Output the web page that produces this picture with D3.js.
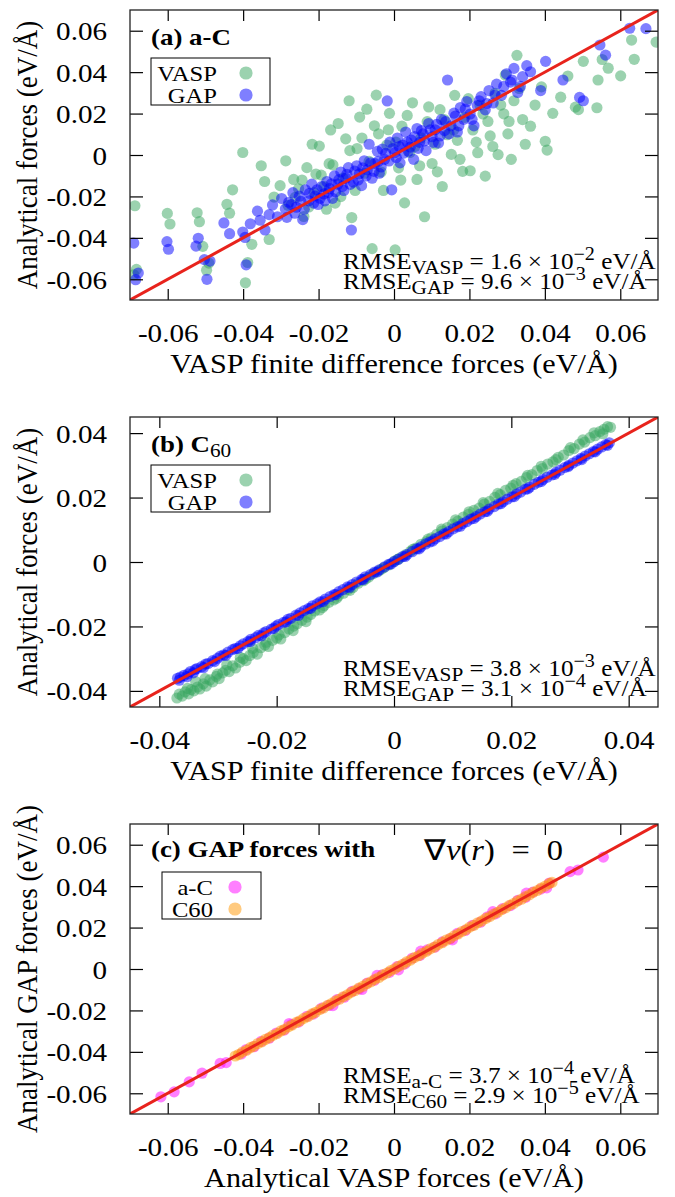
<!DOCTYPE html>
<html><head><meta charset="utf-8">
<script src="https://cdn.jsdelivr.net/npm/d3@7"></script>
<style>
body{margin:0;background:#fff}
svg{display:block}
text{font-family:"Liberation Serif","Times New Roman",serif;fill:#000}
</style>
</head><body>
<svg id="chart" width="675" height="1197"></svg>
<script>
// ---------- tick values / labels ----------
const ticksWide = [-0.06,-0.04,-0.02,0,0.02,0.04,0.06];
const tickLabelsWide = ["-0.06","-0.04","-0.02","0","0.02","0.04","0.06"];
const ticksNarrow = [-0.04,-0.02,0,0.02,0.04];
const tickLabelsNarrow = ["-0.04","-0.02","0","0.02","0.04"];

// ---------- panel (a) a-C : [finite difference, analytical] ----------
const aVasp = [
[-0.0687,-0.0245],[-0.0690,-0.0578],[-0.0683,-0.0552],[-0.0601,-0.0282],[-0.0594,-0.0333],[-0.0522,-0.0279],
[-0.0516,-0.0322],[-0.0507,-0.0441],[-0.0491,-0.0522],[-0.0497,-0.0556],[-0.0436,-0.0281],[-0.0428,-0.0168],
[-0.0443,-0.0238],[-0.0401,0.0012],[-0.0394,-0.0617],[-0.0388,-0.0519],[-0.0377,-0.0431],[-0.0352,-0.0052],
[-0.0343,-0.0128],[-0.0331,-0.0408],[-0.0318,-0.0203],[-0.0302,-0.0148],[-0.0287,-0.0028],[-0.0281,-0.0243],
[-0.0266,-0.0118],[-0.0253,-0.0163],[-0.0239,-0.0297],[-0.0231,-0.0061],[-0.0217,0.0052],[-0.0212,-0.0182],
[-0.0198,0.0043],[-0.0193,-0.0097],[-0.0179,-0.0262],[-0.0168,0.0121],[-0.0162,-0.0048],[-0.0148,0.0152],
[-0.0141,-0.0201],[-0.0128,0.0078],[-0.0119,0.0262],[-0.0112,-0.0302],[-0.0098,0.0031],[-0.0091,0.0183],
[-0.0078,-0.0088],[-0.0072,0.0221],[-0.0058,-0.0452],[-0.0047,0.0289],[-0.0041,0.0102],[-0.0028,-0.0171],
[-0.0019,0.0048],[-0.0012,0.0201],[0.0003,-0.0458],[0.0012,-0.0062],[0.0021,0.0139],[0.0028,-0.0231],
[0.0042,0.0012],[0.0049,0.0252],[0.0061,-0.0118],[0.0072,0.0083],[0.0081,-0.0298],[0.0088,0.0161],
[0.0101,-0.0041],[0.0109,0.0052],[0.0122,0.0219],[0.0128,-0.0152],[0.0141,0.0098],[0.0152,0.0003],
[0.0161,0.0288],[0.0168,0.0071],[0.0182,-0.0079],[0.0188,0.0182],[0.0202,-0.0076],[0.0209,0.0121],
[0.0222,0.0011],[0.0228,0.0241],[0.0242,-0.0102],[0.0249,0.0162],[0.0262,0.0041],[0.0268,0.0298],
[0.0276,0.0002],[0.0291,0.0199],[0.0295,0.0386],[0.0302,0.0102],[0.0311,-0.0021],[0.0318,0.0262],
[0.0326,0.0481],[0.0341,0.0171],[0.0348,0.0052],[0.0362,0.0139],[0.0374,0.0241],[0.0391,0.0329],
[0.0401,0.0066],[0.0406,0.0024],[0.0421,0.0201],[0.0442,0.0279],[0.0461,0.0381],[0.0481,0.0231],
[0.0489,0.0219],[0.0502,0.0452],[0.0538,0.0228],[0.0541,0.0362],[0.0552,0.0461],[0.0568,0.0419],
[0.0601,0.0382],[0.0630,0.0555],[0.0637,0.0462],[0.0695,0.0545],
[-0.0262,-0.0205],[-0.0244,-0.0121],[-0.0226,-0.0251],[-0.0207,-0.0092],[-0.0186,-0.0151],[-0.0172,-0.0042],
[-0.0156,-0.0232],[-0.0135,-0.0112],[-0.0117,0.0021],[-0.0103,-0.0171],[-0.0085,0.0082],[-0.0066,-0.0031],
[-0.0052,0.0141],[-0.0034,-0.0082],[-0.0015,0.0122],[0.0005,0.0062],[0.0018,-0.0121],[0.0035,0.0191],
[0.0056,0.0042],[0.0068,-0.0052],[0.0092,0.0232],[0.0115,-0.0081],[0.0133,0.0171],[0.0158,0.0121],
[0.0175,-0.0021],[0.0197,0.0272],[0.0218,0.0062],[0.0236,0.0198],[0.0255,0.0092],[0.0283,0.0241],
[0.0305,0.0162],[0.0332,0.0321]
];
const aGap = [
[-0.0690,-0.0425],[-0.0685,-0.0602],[-0.0678,-0.0570],[-0.0602,-0.0418],[-0.0598,-0.0455],[-0.0525,-0.0440],
[-0.0519,-0.0402],[-0.0503,-0.0505],[-0.0496,-0.0600],[-0.0488,-0.0512],[-0.0451,-0.0328],[-0.0436,-0.0380],
[-0.0401,-0.0372],[-0.0395,-0.0398],[-0.0392,-0.0530],[-0.0381,-0.0332],[-0.0362,-0.0271],[-0.0355,-0.0315],
[-0.0342,-0.0362],[-0.0331,-0.0288],[-0.0322,-0.0241],[-0.0309,-0.0298],[-0.0298,-0.0210],[-0.0288,-0.0261],
[-0.0279,-0.0228],[-0.0268,-0.0182],[-0.0259,-0.0252],[-0.0251,-0.0199],[-0.0242,-0.0312],[-0.0235,-0.0168],
[-0.0226,-0.0221],[-0.0218,-0.0141],[-0.0209,-0.0198],[-0.0201,-0.0239],[-0.0192,-0.0152],[-0.0186,-0.0188],
[-0.0178,-0.0128],[-0.0171,-0.0162],[-0.0163,-0.0209],[-0.0158,-0.0101],[-0.0149,-0.0141],[-0.0141,-0.0082],
[-0.0133,-0.0171],[-0.0128,-0.0112],[-0.0121,-0.0061],[-0.0113,-0.0362],[-0.0108,-0.0131],[-0.0099,-0.0052],
[-0.0092,-0.0091],[-0.0086,-0.0148],[-0.0079,-0.0028],[-0.0071,-0.0072],[-0.0066,0.0052],[-0.0058,-0.0112],
[-0.0051,-0.0041],[-0.0044,0.0018],[-0.0039,-0.0088],[-0.0031,0.0028],[-0.0025,-0.0021],[-0.0018,0.0261],
[-0.0011,0.0062],[-0.0006,-0.0168],[0.0002,0.0011],[0.0009,0.0082],[0.0016,-0.0038],[0.0023,0.0048],
[0.0031,0.0111],[0.0038,0.0018],[0.0046,0.0072],[0.0052,-0.0021],[0.0061,0.0128],[0.0068,0.0061],
[0.0077,0.0102],[0.0085,0.0021],[0.0092,0.0152],[0.0101,0.0088],[0.0109,0.0122],[0.0118,0.0058],
[0.0126,0.0171],[0.0134,0.0118],[0.0142,0.0362],[0.0151,0.0141],[0.0159,0.0202],[0.0168,0.0111],
[0.0176,0.0229],[0.0185,0.0172],[0.0193,0.0258],[0.0202,0.0198],[0.0212,0.0141],[0.0221,0.0239],
[0.0231,0.0282],[0.0242,0.0218],[0.0252,0.0311],[0.0263,0.0251],[0.0272,0.0342],[0.0285,0.0288],
[0.0298,0.0392],[0.0309,0.0352],[0.0318,0.0418],[0.0328,0.0302],[0.0341,0.0378],[0.0362,0.0402],
[0.0389,0.0311],[0.0402,0.0452],[0.0448,0.0362],[0.0492,0.0278],[0.0502,0.0262],[0.0546,0.0531],
[0.0561,0.0482],[0.0625,0.0612],[0.0668,0.0610],
[-0.0284,-0.0301],[-0.0272,-0.0239],[-0.0263,-0.0281],[-0.0247,-0.0224],[-0.0238,-0.0262],[-0.0224,-0.0185],
[-0.0213,-0.0232],[-0.0204,-0.0168],[-0.0196,-0.0209],[-0.0183,-0.0221],[-0.0174,-0.0181],[-0.0166,-0.0139],
[-0.0155,-0.0178],[-0.0146,-0.0119],[-0.0137,-0.0152],[-0.0125,-0.0093],[-0.0116,-0.0142],[-0.0104,-0.0078],
[-0.0095,-0.0121],[-0.0083,-0.0062],[-0.0074,-0.0101],[-0.0062,-0.0038],[-0.0053,-0.0079],[-0.0042,-0.0031],
[-0.0034,-0.0058],[-0.0022,0.0008],[-0.0013,-0.0029],[-0.0003,0.0031],[0.0006,-0.0012],[0.0014,0.0041],
[0.0026,0.0009],[0.0035,0.0062],[0.0043,0.0038],[0.0055,0.0089],[0.0064,0.0032],[0.0073,0.0118],
[0.0081,0.0068],[0.0096,0.0121],[0.0104,0.0061],[0.0113,0.0148],[0.0122,0.0092],[0.0137,0.0161],
[0.0146,0.0102],[0.0163,0.0188],[0.0172,0.0141],[0.0189,0.0221],[0.0207,0.0172],[0.0226,0.0262],
[0.0246,0.0248],[0.0268,0.0289],[0.0291,0.0331],[0.0313,0.0362],[0.0335,0.0331],[0.0352,0.0431]
];

// ---------- panel (b) C60 ----------
const bVasp = [
[-0.0370,-0.0422],[-0.0366,-0.0410],[-0.0361,-0.0416],[-0.0356,-0.0403],[-0.0350,-0.0409],[-0.0346,-0.0396],
[-0.0341,-0.0400],[-0.0335,-0.0388],[-0.0331,-0.0394],[-0.0325,-0.0378],[-0.0320,-0.0385],[-0.0314,-0.0366],
[-0.0309,-0.0372],[-0.0303,-0.0355],[-0.0298,-0.0362],[-0.0292,-0.0344],[-0.0287,-0.0336],[-0.0281,-0.0340],
[-0.0275,-0.0322],[-0.0270,-0.0329],[-0.0263,-0.0311],[-0.0257,-0.0300],[-0.0252,-0.0306],[-0.0246,-0.0290],
[-0.0240,-0.0281],[-0.0233,-0.0286],[-0.0227,-0.0266],[-0.0220,-0.0258],[-0.0214,-0.0262],[-0.0207,-0.0243],
[-0.0200,-0.0236],[-0.0193,-0.0239],[-0.0186,-0.0219],[-0.0179,-0.0208],[-0.0172,-0.0213],[-0.0165,-0.0192],
[-0.0157,-0.0181],[-0.0150,-0.0185],[-0.0142,-0.0163],[-0.0135,-0.0152],[-0.0127,-0.0149],[-0.0119,-0.0135],
[-0.0111,-0.0125],[-0.0103,-0.0118],[-0.0095,-0.0106],[-0.0086,-0.0097],[-0.0078,-0.0085],[-0.0070,-0.0079],
[-0.0061,-0.0066],[-0.0052,-0.0058],[-0.0043,-0.0047],[-0.0035,-0.0036],[-0.0026,-0.0028],[-0.0017,-0.0017],
[-0.0008,-0.0009],[0.0001,0.0003],[0.0010,0.0012],[0.0019,0.0022],[0.0028,0.0033],[0.0037,0.0043],
[0.0046,0.0055],[0.0055,0.0063],[0.0064,0.0075],[0.0073,0.0086],[0.0082,0.0096],[0.0091,0.0107],
[0.0100,0.0118],[0.0109,0.0127],[0.0118,0.0139],[0.0127,0.0148],[0.0136,0.0160],[0.0145,0.0167],
[0.0154,0.0180],[0.0163,0.0188],[0.0172,0.0201],[0.0181,0.0209],[0.0190,0.0222],[0.0199,0.0229],
[0.0208,0.0243],[0.0217,0.0250],[0.0226,0.0262],[0.0235,0.0271],[0.0244,0.0284],[0.0253,0.0290],
[0.0262,0.0304],[0.0271,0.0311],[0.0280,0.0325],[0.0289,0.0332],[0.0298,0.0346],[0.0307,0.0352],
[0.0316,0.0366],[0.0325,0.0372],[0.0334,0.0386],[0.0343,0.0392],[0.0351,0.0405],[0.0358,0.0412],
[0.0364,0.0420],[0.0369,0.0418],
[-0.0352,-0.0392],[-0.0338,-0.0371],[-0.0322,-0.0362],[-0.0301,-0.0348],[-0.0285,-0.0319],[-0.0262,-0.0296],
[-0.0241,-0.0268],[-0.0218,-0.0249],[-0.0196,-0.0226],[-0.0171,-0.0199],[-0.0148,-0.0171],[-0.0122,-0.0141],
[-0.0098,-0.0113],[-0.0075,-0.0088],[-0.0048,-0.0052],[-0.0021,-0.0022],[0.0006,0.0008],[0.0032,0.0039],
[0.0058,0.0071],[0.0081,0.0102],[0.0105,0.0131],[0.0128,0.0156],[0.0152,0.0184],[0.0177,0.0213],
[0.0203,0.0238],[0.0228,0.0269],[0.0251,0.0297],[0.0276,0.0318],[0.0301,0.0355],[0.0322,0.0379],
[0.0341,0.0401],[0.0356,0.0398]
];
const bGap = [
[-0.0369,-0.0361],[-0.0364,-0.0357],[-0.0358,-0.0352],[-0.0351,-0.0347],[-0.0347,-0.0340],[-0.0339,-0.0334],
[-0.0336,-0.0331],[-0.0328,-0.0325],[-0.0321,-0.0317],[-0.0317,-0.0315],[-0.0309,-0.0306],[-0.0301,-0.0299],
[-0.0296,-0.0292],[-0.0290,-0.0288],[-0.0283,-0.0280],[-0.0275,-0.0272],[-0.0271,-0.0269],[-0.0262,-0.0260],
[-0.0257,-0.0254],[-0.0249,-0.0247],[-0.0244,-0.0240],[-0.0236,-0.0235],[-0.0231,-0.0228],[-0.0222,-0.0220],
[-0.0218,-0.0216],[-0.0209,-0.0208],[-0.0201,-0.0199],[-0.0197,-0.0194],[-0.0188,-0.0187],[-0.0181,-0.0178],
[-0.0176,-0.0175],[-0.0167,-0.0165],[-0.0160,-0.0158],[-0.0153,-0.0151],[-0.0146,-0.0145],[-0.0139,-0.0136],
[-0.0131,-0.0130],[-0.0126,-0.0124],[-0.0117,-0.0115],[-0.0109,-0.0107],[-0.0102,-0.0101],[-0.0094,-0.0092],
[-0.0087,-0.0086],[-0.0079,-0.0077],[-0.0071,-0.0070],[-0.0064,-0.0062],[-0.0055,-0.0054],[-0.0049,-0.0046],
[-0.0040,-0.0039],[-0.0033,-0.0031],[-0.0025,-0.0024],[-0.0016,-0.0015],[-0.0009,-0.0007],[0.0000,0.0001],
[0.0007,0.0008],[0.0015,0.0017],[0.0022,0.0023],[0.0031,0.0032],[0.0039,0.0041],[0.0046,0.0047],
[0.0054,0.0056],[0.0061,0.0062],[0.0070,0.0072],[0.0078,0.0079],[0.0085,0.0087],[0.0093,0.0094],
[0.0101,0.0103],[0.0108,0.0109],[0.0117,0.0119],[0.0124,0.0125],[0.0131,0.0133],[0.0140,0.0141],
[0.0147,0.0149],[0.0155,0.0156],[0.0162,0.0164],[0.0171,0.0172],[0.0178,0.0180],[0.0186,0.0187],
[0.0193,0.0195],[0.0201,0.0202],[0.0209,0.0211],[0.0216,0.0217],[0.0224,0.0226],[0.0231,0.0232],
[0.0239,0.0241],[0.0246,0.0247],[0.0254,0.0256],[0.0261,0.0263],[0.0269,0.0270],[0.0276,0.0278],
[0.0283,0.0285],[0.0291,0.0293],[0.0298,0.0300],[0.0305,0.0307],[0.0312,0.0314],[0.0319,0.0322],
[0.0326,0.0329],[0.0333,0.0336],[0.0340,0.0343],[0.0347,0.0350],[0.0354,0.0357],[0.0361,0.0364],
[0.0367,0.0370],
[-0.0366,-0.0367],[-0.0353,-0.0356],[-0.0342,-0.0344],[-0.0325,-0.0328],[-0.0306,-0.0309],[-0.0287,-0.0290],
[-0.0266,-0.0268],[-0.0245,-0.0247],[-0.0226,-0.0229],[-0.0205,-0.0206],[-0.0184,-0.0186],[-0.0163,-0.0166],
[-0.0142,-0.0144],[-0.0121,-0.0123],[-0.0099,-0.0101],[-0.0076,-0.0079],[-0.0053,-0.0055],[-0.0029,-0.0031],
[-0.0005,-0.0006],[0.0019,0.0017],[0.0043,0.0041],[0.0066,0.0065],[0.0089,0.0087],[0.0113,0.0111],
[0.0136,0.0135],[0.0159,0.0157],[0.0182,0.0181],[0.0205,0.0203],[0.0228,0.0227],[0.0251,0.0250],
[0.0274,0.0272],[0.0297,0.0296],[0.0320,0.0318],[0.0343,0.0342],[0.0364,0.0362]
];

// ---------- panel (c) GAP with grad v = 0 : [analytical VASP, analytical GAP] ----------
const cAC = [
[-0.0618,-0.0617],[-0.0583,-0.0593],[-0.0543,-0.0545],[-0.0509,-0.0503],[-0.0461,-0.0456],[-0.0445,-0.0452],
[-0.0405,-0.0410],[-0.0392,-0.0389],[-0.0371,-0.0375],[-0.0352,-0.0349],[-0.0331,-0.0334],[-0.0312,-0.0309],
[-0.0291,-0.0295],[-0.0272,-0.0268],[-0.0253,-0.0256],[-0.0231,-0.0228],[-0.0214,-0.0218],[-0.0192,-0.0189],
[-0.0173,-0.0176],[-0.0151,-0.0148],[-0.0132,-0.0136],[-0.0111,-0.0108],[-0.0092,-0.0095],[-0.0071,-0.0068],
[-0.0052,-0.0055],[-0.0031,-0.0028],[-0.0012,-0.0016],[0.0008,0.0011],[0.0029,0.0025],[0.0048,0.0052],
[0.0069,0.0066],[0.0088,0.0092],[0.0109,0.0106],[0.0128,0.0131],[0.0149,0.0146],[0.0168,0.0172],
[0.0189,0.0186],[0.0208,0.0211],[0.0229,0.0226],[0.0248,0.0252],[0.0269,0.0266],[0.0288,0.0291],
[0.0309,0.0306],[0.0328,0.0331],[0.0349,0.0346],[0.0368,0.0371],[0.0389,0.0386],[0.0412,0.0415],
[0.0467,0.0470],[0.0488,0.0478],[0.0555,0.0540],
[-0.0085,-0.0099],[-0.0045,-0.0031],[0.0012,-0.0004],[0.0071,0.0086],[0.0155,0.0141],[0.0262,0.0277],
[-0.0162,-0.0177],[-0.0278,-0.0263],[0.0351,0.0366],[0.0405,0.0392]
];
const cC60 = [
[-0.0421,-0.0420],[-0.0412,-0.0413],[-0.0402,-0.0401],[-0.0391,-0.0393],[-0.0381,-0.0380],[-0.0372,-0.0373],
[-0.0361,-0.0360],[-0.0350,-0.0352],[-0.0341,-0.0340],[-0.0330,-0.0331],[-0.0321,-0.0320],[-0.0310,-0.0312],
[-0.0300,-0.0299],[-0.0291,-0.0292],[-0.0280,-0.0279],[-0.0270,-0.0271],[-0.0259,-0.0258],[-0.0249,-0.0250],
[-0.0239,-0.0238],[-0.0228,-0.0230],[-0.0218,-0.0217],[-0.0208,-0.0209],[-0.0197,-0.0196],[-0.0187,-0.0188],
[-0.0176,-0.0175],[-0.0166,-0.0167],[-0.0156,-0.0155],[-0.0145,-0.0146],[-0.0135,-0.0134],[-0.0124,-0.0125],
[-0.0114,-0.0113],[-0.0103,-0.0104],[-0.0093,-0.0092],[-0.0082,-0.0083],[-0.0072,-0.0071],[-0.0061,-0.0062],
[-0.0051,-0.0050],[-0.0040,-0.0041],[-0.0030,-0.0029],[-0.0019,-0.0020],[-0.0009,-0.0008],[0.0002,0.0001],
[0.0012,0.0013],[0.0023,0.0022],[0.0033,0.0034],[0.0044,0.0043],[0.0054,0.0055],[0.0065,0.0064],
[0.0075,0.0076],[0.0086,0.0085],[0.0096,0.0097],[0.0107,0.0106],[0.0117,0.0118],[0.0128,0.0127],
[0.0138,0.0139],[0.0149,0.0148],[0.0159,0.0160],[0.0170,0.0169],[0.0180,0.0181],[0.0191,0.0190],
[0.0201,0.0202],[0.0212,0.0211],[0.0222,0.0223],[0.0233,0.0232],[0.0243,0.0244],[0.0254,0.0253],
[0.0264,0.0265],[0.0275,0.0274],[0.0285,0.0286],[0.0296,0.0295],[0.0306,0.0307],[0.0317,0.0316],
[0.0327,0.0328],[0.0338,0.0337],[0.0348,0.0349],[0.0359,0.0358],[0.0369,0.0370],[0.0380,0.0379],
[0.0390,0.0391],[0.0401,0.0400],[0.0411,0.0412],[0.0419,0.0418]
];

// ---------- styling ----------
const SX = 1.12;              // horizontal stretch of the original typography
const colVasp = "rgb(55,165,95)", colGap = "rgb(0,0,255)";
const colAC = "rgb(255,0,255)", colC60 = "rgb(255,150,0)";
const left = 130, right = 658, plotH = 290;

const panels = [
  {top:10, dom:[-0.07,0.07], ticks:ticksWide, labels:tickLabelsWide,
   series:[{data:aVasp,col:colVasp},{data:aGap,col:colGap}],
   xTitle:"VASP finite difference forces (eV/Å)", yTitle:"Analytical forces (eV/Å)",
   tag:[{t:"(a) a-C",b:true}],
   legend:{x0:151,x1:270,tx:217,cx:246,items:[["VASP",colVasp],["GAP",colGap]]},
   rmse:[["VASP","1.6","−2"],["GAP","9.6","−3"]]},
  {top:417, dom:[-0.045,0.045], ticks:ticksNarrow, labels:tickLabelsNarrow,
   series:[{data:bVasp,col:colVasp},{data:bGap,col:colGap}],
   xTitle:"VASP finite difference forces (eV/Å)", yTitle:"Analytical forces (eV/Å)",
   tag:[{t:"(b) C",b:true},{t:"60",b:false,sub:true}],
   legend:{x0:151,x1:270,tx:217,cx:246,items:[["VASP",colVasp],["GAP",colGap]]},
   rmse:[["VASP","3.8","−3"],["GAP","3.1","−4"]]},
  {top:824, dom:[-0.07,0.07], ticks:ticksWide, labels:tickLabelsWide,
   series:[{data:cAC,col:colAC},{data:cC60,col:colC60}],
   xTitle:"Analytical VASP forces (eV/Å)", yTitle:"Analytical GAP forces (eV/Å)",
   tag:[{t:"(c) GAP forces with",b:true}],
   legend:{x0:162,x1:261,tx:213,cx:235,items:[["a-C",colAC],["C60",colC60]]},
   rmse:[["a-C","3.7","−4"],["C60","2.9","−5"]]}
];

const svg = d3.select("#chart");

function stretched(parent, x, y){
  return parent.append("g").attr("transform",`translate(${x},${y}) scale(${SX},1)`);
}

panels.forEach((p,pi)=>{
  const x = d3.scaleLinear().domain(p.dom).range([left,right]);
  const y = d3.scaleLinear().domain(p.dom).range([p.top+plotH,p.top]);
  const g = svg.append("g");
  const clipId = "clip"+pi;
  g.append("clipPath").attr("id",clipId).append("rect")
    .attr("x",left).attr("y",p.top).attr("width",right-left).attr("height",plotH);

  // points
  const pts = g.append("g").attr("clip-path",`url(#${clipId})`);
  p.series.forEach(s=>{
    pts.append("g").selectAll("circle").data(s.data).join("circle")
      .attr("cx",d=>x(d[0])).attr("cy",d=>y(d[1])).attr("r",5.6)
      .attr("fill",s.col).attr("fill-opacity",0.5);
  });
  // y = x line
  pts.append("line")
    .attr("x1",x(p.dom[0])).attr("y1",y(p.dom[0])).attr("x2",x(p.dom[1])).attr("y2",y(p.dom[1]))
    .attr("stroke","#e8231c").attr("stroke-width",3);

  // axes (inward mirrored ticks)
  const fmt = (d,i)=>p.labels[i];
  const axB = g.append("g").attr("transform",`translate(0,${p.top+plotH})`)
    .call(d3.axisBottom(x).tickValues(p.ticks).tickFormat(fmt).tickSize(-11).tickSizeOuter(0).tickPadding(23.5));
  const axT = g.append("g").attr("transform",`translate(0,${p.top})`)
    .call(d3.axisTop(x).tickValues(p.ticks).tickFormat("").tickSize(-11).tickSizeOuter(0));
  const axL = g.append("g").attr("transform",`translate(${left},0)`)
    .call(d3.axisLeft(y).tickValues(p.ticks).tickFormat(fmt).tickSize(-13).tickSizeOuter(0).tickPadding(20.5));
  const axR = g.append("g").attr("transform",`translate(${right},0)`)
    .call(d3.axisRight(y).tickValues(p.ticks).tickFormat("").tickSize(-13).tickSizeOuter(0));
  [axB,axT,axL,axR].forEach(a=>{
    a.select(".domain").remove();
    a.selectAll(".tick line").attr("stroke","#000").attr("stroke-width",1.2);
    a.selectAll("text").attr("font-family",null).attr("font-size",26).attr("fill","#000");
  });
  axB.selectAll(".tick text").attr("transform",`scale(${SX},1)`);
  axL.selectAll(".tick text").attr("transform",`scale(${SX},1)`).attr("dy","0.35em");

  // frame
  g.append("rect").attr("x",left).attr("y",p.top).attr("width",right-left).attr("height",plotH)
    .attr("fill","none").attr("stroke","#222").attr("stroke-width",1.3);

  // axis titles
  stretched(g,(left+right)/2,p.top+plotH+73).append("text")
    .attr("text-anchor","middle").attr("font-size",27).text(p.xTitle);
  g.append("g").attr("transform",`translate(37,${p.top+plotH/2}) scale(${SX},1) rotate(-90)`)
    .append("text").attr("text-anchor","middle").attr("font-size",27).text(p.yTitle);

  // panel tag
  const tg = stretched(g,151,p.top+(pi===2?33:35)).append("text").attr("font-size",24);
  p.tag.forEach(t=>{
    const ts = tg.append("tspan").attr("font-weight",t.b?"bold":"normal").text(t.t);
    if(t.sub) ts.attr("font-size",19).attr("dy",5);
  });
  if(pi===2){
    const tn = stretched(g,424,p.top+36).append("text").attr("font-size",29);
    tn.append("tspan").text("∇");
    tn.append("tspan").attr("font-style","italic").text("ν");
    tn.append("tspan").text("(");
    tn.append("tspan").attr("font-style","italic").text("r");
    tn.append("tspan").text(")");
    tn.append("tspan").attr("dx",15).text("=");
    tn.append("tspan").attr("dx",15).text("0");
  }

  // legend
  const L = p.legend;
  const ly0 = p.top+48, ly1 = p.top+95;
  g.append("rect").attr("x",L.x0).attr("y",ly0).attr("width",L.x1-L.x0).attr("height",ly1-ly0)
    .attr("fill","#fff").attr("stroke","#000").attr("stroke-width",1);
  L.items.forEach((it,i)=>{
    const by = p.top+71+i*22;
    stretched(g,L.tx,by).append("text").attr("text-anchor","end").attr("font-size",22).text(it[0]);
    g.append("circle").attr("cx",L.cx).attr("cy",by-8).attr("r",6.6)
      .attr("fill",it[1]).attr("fill-opacity",0.5);
  });

  // RMSE annotations
  p.rmse.forEach((r,i)=>{
    const t = stretched(g,343,p.top+plotH-31+i*20).append("text").attr("font-size",22.5);
    t.append("tspan").text("RMSE");
    t.append("tspan").attr("font-size",19).attr("dy",5).text(r[0]);
    t.append("tspan").attr("dy",-5).text(" = "+r[1]+" × 10");
    t.append("tspan").attr("font-size",18).attr("dy",-9).text(r[2]);
    t.append("tspan").attr("dy",9).text(" eV/Å");
  });
});
</script>
</body></html>
